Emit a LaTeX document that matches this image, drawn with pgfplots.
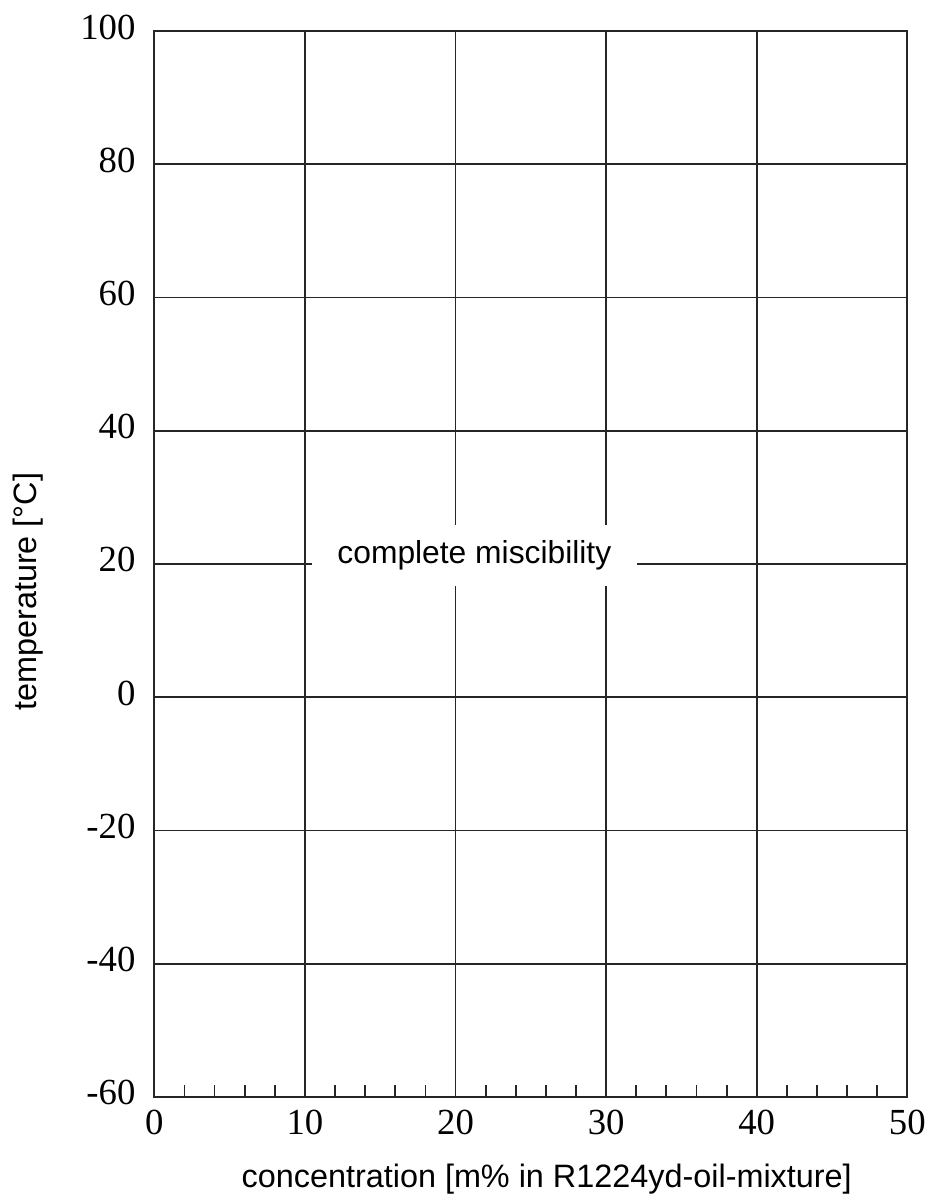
\documentclass[border={3pt 1pt 1pt 4pt}]{standalone}
\usepackage{fontspec}
\setmainfont{Liberation Sans}
\newfontfamily\tickfont{Liberation Serif}
\usepackage{pgfplots}
\pgfplotsset{compat=1.18}
\begin{document}
\begin{tikzpicture}
\begin{axis}[
    scale only axis,
    width=379pt, height=536.5pt,
    xmin=0, xmax=50, ymin=-60, ymax=100,
    xtick={0,10,...,50}, ytick={-60,-40,...,100},
    minor xtick={2,4,6,8,12,14,16,18,22,24,26,28,32,34,36,38,42,44,46,48},
    major tick length=0pt,
    minor tick length=6pt,
    tick align=inside,
    xtick pos=bottom, ytick pos=left,
    axis line style={line width=1pt, black!85},
    xmajorgrids, ymajorgrids,
    major grid style={line width=0.9pt, black!85},
    minor tick style={line width=0.9pt, black!85},
    tick label style={font=\tickfont\fontsize{18.5}{20}\selectfont},
    /pgf/number format/assume math mode=true,
    xticklabel style={yshift=-3pt},
    yticklabel style={xshift=-6pt, yshift=2pt},
    xlabel={concentration [m\% in R1224yd-oil-mixture]},
    ylabel={temperature [°C]},
    label style={font=\fontsize{16.3}{19}\selectfont},
    xlabel style={yshift=-8pt, xshift=8pt},
    ylabel style={yshift=12pt, xshift=-14pt},
]
\addplot[draw=none] coordinates {(0,-60) (50,100)};
\node[fill=white, inner xsep=13pt, inner ysep=8pt, font=\fontsize{16}{19}\selectfont]
    at (axis cs:21.25,21.3) {complete miscibility};
\end{axis}
\end{tikzpicture}
\end{document}
